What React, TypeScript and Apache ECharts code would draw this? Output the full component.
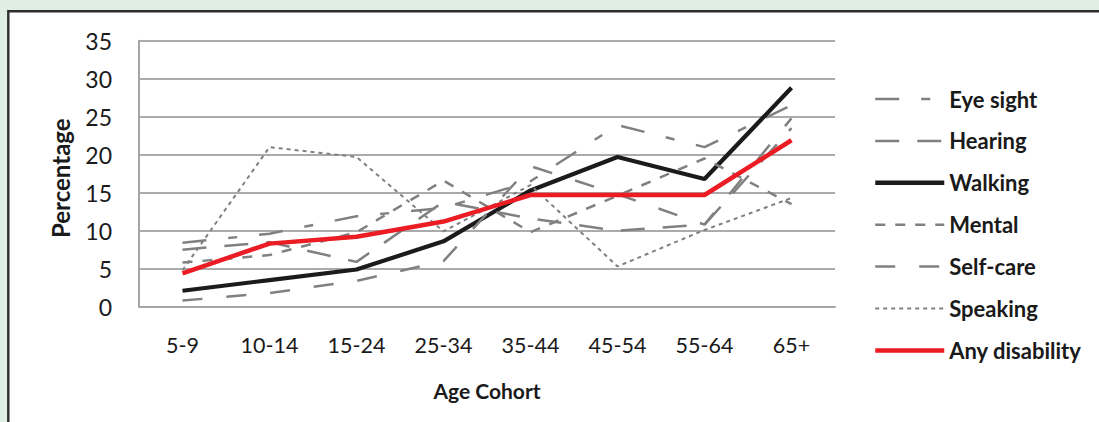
import React, { useEffect, useRef } from "react";
import * as echarts from "echarts";

const categories = ["5-9", "10-14", "15-24", "25-34", "35-44", "45-54", "55-64", "65+"];
const eyeSight = [8.4, 9.6, 11.9, 13.0, 16.5, 23.9, 21.0, 26.5];
const hearing = [7.5, 8.5, 5.9, 13.8, 11.6, 10.0, 10.8, 23.5];
const walking = [2.1, 3.5, 4.9, 8.6, 15.3, 19.7, 16.8, 28.8];
const mental = [5.8, 6.8, 9.8, 16.6, 9.8, 14.6, 19.5, 13.5];
const selfCare = [0.8, 1.8, 3.4, 6.0, 18.5, 14.8, 10.8, 24.8];
const speaking = [4.8, 21.0, 19.7, 9.9, 16.0, 5.3, 10.1, 14.3];
const anyDisability = [4.4, 8.3, 9.2, 11.2, 14.7, 14.7, 14.7, 21.9];

const FONT = "Lato";
const GRAY = "#808080";

export default function App() {
  const ref = useRef<HTMLDivElement>(null);
  useEffect(() => {
    document.body.style.margin = "0";
    const chart = echarts.init(ref.current!, undefined, { renderer: "svg" });
    const mk = (name: string, data: number[], color: string, width: number, type: any) => ({
      name,
      type: "line",
      data,
      symbol: "none",
      lineStyle: { color, width, type },
      itemStyle: { color },
    });
    const legendItem = (name: string, width: number) => ({ name, lineStyle: { width } });
    chart.setOption({
      animation: false,
      textStyle: { fontFamily: FONT },
      graphic: [
        {
          type: "rect",
          shape: { x: 8.3, y: 11.2, width: 1200, height: 600 },
          style: { fill: "#ffffff", stroke: "#2e2e2e", lineWidth: 2.4 },
          z: -10,
          silent: true,
        },
      ],
      grid: { left: 139, right: 264, top: 40.7, bottom: 115.3 },
      xAxis: {
        type: "category",
        data: categories,
        boundaryGap: true,
        name: "Age Cohort",
        nameLocation: "middle",
        nameGap: 73,
        nameTextStyle: { fontFamily: FONT, fontWeight: "bold", fontSize: 21, color: "#1a1a1a" },
        axisLine: { show: true, lineStyle: { color: "#a6a6a6", width: 2 } },
        axisTick: { show: false },
        axisLabel: { margin: 27, fontFamily: FONT, fontSize: 21.5, color: "#1a1a1a" },
      },
      yAxis: {
        type: "value",
        min: 0,
        max: 35,
        interval: 5,
        name: "Percentage",
        nameLocation: "middle",
        nameGap: 67,
        nameRotate: 90,
        nameTextStyle: { fontFamily: FONT, fontWeight: "bold", fontSize: 24, color: "#1a1a1a", padding: [0, 9, 0, 0] },
        axisLine: { show: true, lineStyle: { color: "#a6a6a6", width: 2 } },
        axisTick: { show: false },
        axisLabel: { margin: 27, fontFamily: FONT, fontSize: 23, color: "#1a1a1a" },
        splitLine: { show: true, lineStyle: { color: "#8f8f8f", width: 1.5 } },
      },
      legend: {
        orient: "vertical",
        left: 868,
        top: 83,
        padding: 5,
        itemWidth: 69,
        itemHeight: 20,
        itemGap: 19.9,
        itemStyle: { opacity: 0, borderWidth: 0 },
        textStyle: { fontFamily: FONT, fontWeight: "bold", fontSize: 22, color: "#1a1a1a", lineHeight: 20 },
        data: [
          legendItem("Eye sight", 2.5),
          legendItem("Hearing", 2.5),
          legendItem("Walking", 4.5),
          legendItem("Mental", 2.5),
          legendItem("Self-care", 2.5),
          legendItem("Speaking", 2),
          legendItem("Any disability", 4.5),
        ],
      },
      series: [
        mk("Eye sight", eyeSight, GRAY, 2.5, [24, 22, 9, 22]),
        mk("Hearing", hearing, GRAY, 2.5, [24, 18]),
        mk("Walking", walking, "#1c1a1a", 4.2, "solid"),
        mk("Mental", mental, GRAY, 2.5, [10, 10]),
        mk("Self-care", selfCare, GRAY, 2.5, [20, 24]),
        mk("Speaking", speaking, GRAY, 2, [4, 4]),
        mk("Any disability", anyDisability, "#ec1c24", 4.5, "solid"),
      ],
    });
    return () => chart.dispose();
  }, []);
  return (
    <div style={{ width: 1099, height: 422, background: "#dfefe4" }}>
      <div ref={ref} style={{ width: 1099, height: 422 }} />
    </div>
  );
}
